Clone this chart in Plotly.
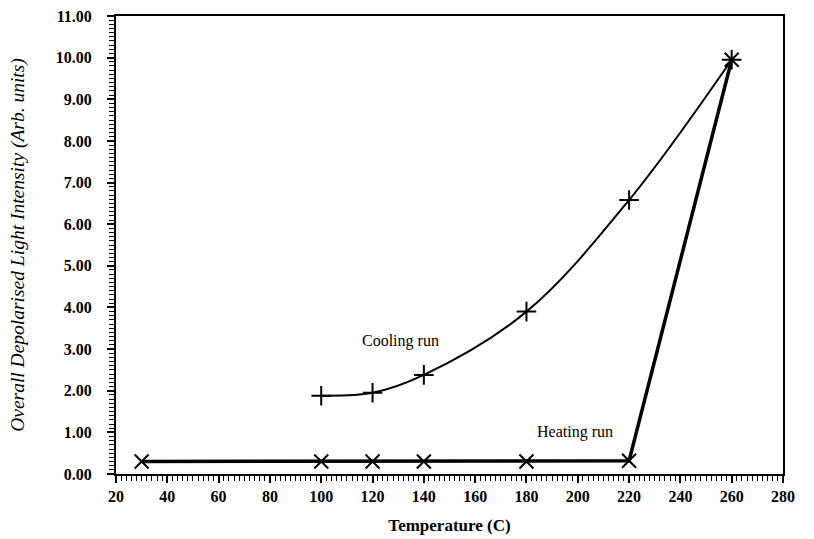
import plotly.graph_objects as go

heat_x = [30, 100, 120, 140, 180, 220, 260]
heat_y = [0.30, 0.30, 0.30, 0.30, 0.30, 0.32, 9.95]
cool_x = [100, 120, 140, 180, 220, 260]
cool_y = [1.88, 1.95, 2.38, 3.90, 6.58, 9.95]

font_family = "Liberation Serif"

fig = go.Figure()
fig.add_trace(go.Scatter(
    x=cool_x, y=cool_y, mode="lines+markers",
    line=dict(color="black", width=2, shape="spline", smoothing=1.0),
    marker=dict(symbol="cross-thin", size=14, line=dict(color="black", width=2)),
    showlegend=False,
))
fig.add_trace(go.Scatter(
    x=heat_x, y=heat_y, mode="lines+markers",
    line=dict(color="black", width=3.5),
    marker=dict(symbol="x-thin", size=14, line=dict(color="black", width=2)),
    showlegend=False,
))

fig.add_annotation(x=131, y=3.2, text="Cooling run", showarrow=False,
                   font=dict(family=font_family, size=16, color="black"))
fig.add_annotation(x=199, y=1.0, text="Heating run", showarrow=False,
                   font=dict(family=font_family, size=16, color="black"))

fig.update_layout(
    width=814, height=539,
    margin=dict(l=116, r=31, t=16, b=65),
    paper_bgcolor="white", plot_bgcolor="white",
    font=dict(family=font_family, color="black"),
    xaxis=dict(
        range=[20, 280], dtick=20, tick0=20, automargin=False,
        showgrid=False, zeroline=False,
        showline=True, linecolor="black", linewidth=2, mirror=True,
        ticks="outside", ticklen=7, tickwidth=1.5, tickcolor="black",
        minor=dict(dtick=2, ticks="outside", ticklen=5, tickwidth=1, tickcolor="black"),
        tickfont=dict(family=font_family, size=16, color="black", weight="bold"),
        title=dict(text="<b>Temperature (C)</b>", standoff=15,
                   font=dict(family=font_family, size=17, color="black")),
    ),
    yaxis=dict(
        range=[0, 11], dtick=1, tickformat=".2f", automargin=False,
        showgrid=False, zeroline=False,
        showline=True, linecolor="black", linewidth=2, mirror=True,
        ticks="outside", ticklen=7, tickwidth=1.5, tickcolor="black",
        minor=dict(dtick=0.1, ticks="outside", ticklen=5, tickwidth=1, tickcolor="black"),
        ticklabelstandoff=12,
        tickfont=dict(family=font_family, size=16, color="black", weight="bold"),
        title=dict(text="<i>Overall Depolarised Light Intensity (Arb. units)</i>", standoff=26,
                   font=dict(family=font_family, size=19.5, color="black")),
    ),
)

fig.write_html("out.html")
